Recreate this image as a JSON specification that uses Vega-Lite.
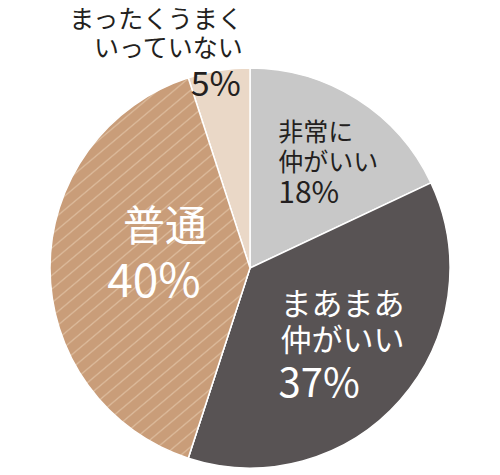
{
  "$schema": "https://vega.github.io/schema/vega-lite/v6.json",
  "width": 500,
  "height": 414,
  "autosize": "none",
  "padding": {"top": 61, "left": 0, "right": 0, "bottom": 0},
  "background": "white",
  "config": {"view": {"stroke": null}, "text": {"font": "Noto Sans CJK JP"}},
  "data": {"values": [
    {"cat": "非常に仲がいい", "value": 18, "o": 1, "label": "非常に\n仲がいい", "pct": "18%"},
    {"cat": "まあまあ仲がいい", "value": 37, "o": 2, "label": "まあまあ\n仲がいい", "pct": "37%"},
    {"cat": "普通", "value": 40, "o": 3, "label": "普通", "pct": "40%"},
    {"cat": "まったくうまくいっていない", "value": 5, "o": 4, "label": "まったくうまく\nいっていない", "pct": "5%"}
  ]},
  "encoding": {
    "theta": {"field": "value", "type": "quantitative", "stack": true},
    "order": {"field": "o", "type": "quantitative"}
  },
  "layer": [
    {
      "mark": {"type": "arc", "outerRadius": 200, "stroke": "white", "strokeWidth": 1.5},
      "encoding": {
        "color": {"field": "cat", "type": "nominal", "legend": null,
          "scale": {"domain": ["非常に仲がいい", "まあまあ仲がいい", "普通", "まったくうまくいっていない"],
                    "range": ["#c8c8c8", "#585354", "#c99d79", "#ead8c7"]}}
      }
    },
    {
      "mark": {"type": "arc", "outerRadius": 200, "stroke": "white", "strokeWidth": 1.5,
        "fill": {"gradient": "linear", "x1": 0, "y1": 0, "x2": 0.533, "y2": 1.207, "stops": [
          {"offset": 0, "color": "#c99d79"},
          {"offset": 0.010, "color": "#c99d79"}, {"offset": 0.013, "color": "#dcbb9c"}, {"offset": 0.016, "color": "#c99d79"},
          {"offset": 0.035, "color": "#c99d79"}, {"offset": 0.038, "color": "#dcbb9c"}, {"offset": 0.041, "color": "#c99d79"},
          {"offset": 0.060, "color": "#c99d79"}, {"offset": 0.063, "color": "#dcbb9c"}, {"offset": 0.066, "color": "#c99d79"},
          {"offset": 0.085, "color": "#c99d79"}, {"offset": 0.088, "color": "#dcbb9c"}, {"offset": 0.091, "color": "#c99d79"},
          {"offset": 0.110, "color": "#c99d79"}, {"offset": 0.113, "color": "#dcbb9c"}, {"offset": 0.116, "color": "#c99d79"},
          {"offset": 0.135, "color": "#c99d79"}, {"offset": 0.138, "color": "#dcbb9c"}, {"offset": 0.141, "color": "#c99d79"},
          {"offset": 0.160, "color": "#c99d79"}, {"offset": 0.163, "color": "#dcbb9c"}, {"offset": 0.166, "color": "#c99d79"},
          {"offset": 0.185, "color": "#c99d79"}, {"offset": 0.188, "color": "#dcbb9c"}, {"offset": 0.191, "color": "#c99d79"},
          {"offset": 0.210, "color": "#c99d79"}, {"offset": 0.213, "color": "#dcbb9c"}, {"offset": 0.216, "color": "#c99d79"},
          {"offset": 0.235, "color": "#c99d79"}, {"offset": 0.238, "color": "#dcbb9c"}, {"offset": 0.241, "color": "#c99d79"},
          {"offset": 0.260, "color": "#c99d79"}, {"offset": 0.263, "color": "#dcbb9c"}, {"offset": 0.266, "color": "#c99d79"},
          {"offset": 0.285, "color": "#c99d79"}, {"offset": 0.288, "color": "#dcbb9c"}, {"offset": 0.291, "color": "#c99d79"},
          {"offset": 0.310, "color": "#c99d79"}, {"offset": 0.313, "color": "#dcbb9c"}, {"offset": 0.316, "color": "#c99d79"},
          {"offset": 0.335, "color": "#c99d79"}, {"offset": 0.338, "color": "#dcbb9c"}, {"offset": 0.341, "color": "#c99d79"},
          {"offset": 0.360, "color": "#c99d79"}, {"offset": 0.363, "color": "#dcbb9c"}, {"offset": 0.366, "color": "#c99d79"},
          {"offset": 0.385, "color": "#c99d79"}, {"offset": 0.388, "color": "#dcbb9c"}, {"offset": 0.391, "color": "#c99d79"},
          {"offset": 0.410, "color": "#c99d79"}, {"offset": 0.413, "color": "#dcbb9c"}, {"offset": 0.416, "color": "#c99d79"},
          {"offset": 0.435, "color": "#c99d79"}, {"offset": 0.438, "color": "#dcbb9c"}, {"offset": 0.441, "color": "#c99d79"},
          {"offset": 0.460, "color": "#c99d79"}, {"offset": 0.463, "color": "#dcbb9c"}, {"offset": 0.466, "color": "#c99d79"},
          {"offset": 0.485, "color": "#c99d79"}, {"offset": 0.488, "color": "#dcbb9c"}, {"offset": 0.491, "color": "#c99d79"},
          {"offset": 0.510, "color": "#c99d79"}, {"offset": 0.513, "color": "#dcbb9c"}, {"offset": 0.516, "color": "#c99d79"},
          {"offset": 0.535, "color": "#c99d79"}, {"offset": 0.538, "color": "#dcbb9c"}, {"offset": 0.541, "color": "#c99d79"},
          {"offset": 0.560, "color": "#c99d79"}, {"offset": 0.563, "color": "#dcbb9c"}, {"offset": 0.566, "color": "#c99d79"},
          {"offset": 0.585, "color": "#c99d79"}, {"offset": 0.588, "color": "#dcbb9c"}, {"offset": 0.591, "color": "#c99d79"},
          {"offset": 0.610, "color": "#c99d79"}, {"offset": 0.613, "color": "#dcbb9c"}, {"offset": 0.616, "color": "#c99d79"},
          {"offset": 0.635, "color": "#c99d79"}, {"offset": 0.638, "color": "#dcbb9c"}, {"offset": 0.641, "color": "#c99d79"},
          {"offset": 0.660, "color": "#c99d79"}, {"offset": 0.663, "color": "#dcbb9c"}, {"offset": 0.666, "color": "#c99d79"},
          {"offset": 0.685, "color": "#c99d79"}, {"offset": 0.688, "color": "#dcbb9c"}, {"offset": 0.691, "color": "#c99d79"},
          {"offset": 0.710, "color": "#c99d79"}, {"offset": 0.713, "color": "#dcbb9c"}, {"offset": 0.716, "color": "#c99d79"},
          {"offset": 0.735, "color": "#c99d79"}, {"offset": 0.738, "color": "#dcbb9c"}, {"offset": 0.741, "color": "#c99d79"},
          {"offset": 0.760, "color": "#c99d79"}, {"offset": 0.763, "color": "#dcbb9c"}, {"offset": 0.766, "color": "#c99d79"},
          {"offset": 0.785, "color": "#c99d79"}, {"offset": 0.788, "color": "#dcbb9c"}, {"offset": 0.791, "color": "#c99d79"},
          {"offset": 0.810, "color": "#c99d79"}, {"offset": 0.813, "color": "#dcbb9c"}, {"offset": 0.816, "color": "#c99d79"},
          {"offset": 0.835, "color": "#c99d79"}, {"offset": 0.838, "color": "#dcbb9c"}, {"offset": 0.841, "color": "#c99d79"},
          {"offset": 0.860, "color": "#c99d79"}, {"offset": 0.863, "color": "#dcbb9c"}, {"offset": 0.866, "color": "#c99d79"},
          {"offset": 0.885, "color": "#c99d79"}, {"offset": 0.888, "color": "#dcbb9c"}, {"offset": 0.891, "color": "#c99d79"},
          {"offset": 0.910, "color": "#c99d79"}, {"offset": 0.913, "color": "#dcbb9c"}, {"offset": 0.916, "color": "#c99d79"},
          {"offset": 0.935, "color": "#c99d79"}, {"offset": 0.938, "color": "#dcbb9c"}, {"offset": 0.941, "color": "#c99d79"},
          {"offset": 0.960, "color": "#c99d79"}, {"offset": 0.963, "color": "#dcbb9c"}, {"offset": 0.966, "color": "#c99d79"},
          {"offset": 0.985, "color": "#c99d79"}, {"offset": 0.988, "color": "#dcbb9c"}, {"offset": 0.991, "color": "#c99d79"},
          {"offset": 1, "color": "#c99d79"}
        ]}},
      "encoding": {
        "detail": {"field": "cat"},
        "opacity": {"condition": {"test": "datum.cat === '普通'", "value": 1}, "value": 0}
      }
    },
    {
      "mark": {"type": "text", "radius": 120, "align": "left", "baseline": "middle", "dx": -36, "dy": -34, "fontSize": 25, "lineHeight": 30, "lineBreak": "\n", "fill": "#231f20"},
      "encoding": {"detail": {"field": "cat"}, "text": {"condition": {"test": "datum.cat === '非常に仲がいい'", "field": "label"}, "value": ""}}
    },
    {
      "mark": {"type": "text", "radius": 120, "align": "left", "baseline": "middle", "dx": -36, "dy": 27, "fontSize": 30, "fill": "#231f20"},
      "encoding": {"detail": {"field": "cat"}, "text": {"condition": {"test": "datum.cat === '非常に仲がいい'", "field": "pct"}, "value": ""}}
    },
    {
      "mark": {"type": "text", "radius": 130, "align": "left", "baseline": "middle", "dx": -67, "dy": -48, "fontSize": 31, "lineHeight": 36, "lineBreak": "\n", "fill": "white"},
      "encoding": {"detail": {"field": "cat"}, "text": {"condition": {"test": "datum.cat === 'まあまあ仲がいい'", "field": "label"}, "value": ""}}
    },
    {
      "mark": {"type": "text", "radius": 130, "align": "left", "baseline": "middle", "dx": -69, "dy": 31, "fontSize": 40, "fill": "white"},
      "encoding": {"detail": {"field": "cat"}, "text": {"condition": {"test": "datum.cat === 'まあまあ仲がいい'", "field": "pct"}, "value": ""}}
    },
    {
      "mark": {"type": "text", "radius": 90, "align": "center", "baseline": "middle", "dx": 5, "dy": -40, "fontSize": 42, "fill": "white"},
      "encoding": {"detail": {"field": "cat"}, "text": {"condition": {"test": "datum.cat === '普通'", "field": "label"}, "value": ""}}
    },
    {
      "mark": {"type": "text", "radius": 90, "align": "center", "baseline": "middle", "dx": -6, "dy": 15, "fontSize": 46, "fill": "white"},
      "encoding": {"detail": {"field": "cat"}, "text": {"condition": {"test": "datum.cat === '普通'", "field": "pct"}, "value": ""}}
    },
    {
      "mark": {"type": "text", "radius": 180, "align": "center", "baseline": "middle", "dx": -6, "dy": -4, "fontSize": 34, "fill": "#231f20"},
      "encoding": {"detail": {"field": "cat"}, "text": {"condition": {"test": "datum.cat === 'まったくうまくいっていない'", "field": "pct"}, "value": ""}}
    },
    {
      "mark": {"type": "text", "radius": 180, "align": "right", "baseline": "middle", "dx": 21, "dy": -70, "fontSize": 25, "lineHeight": 29, "lineBreak": "\n", "fill": "#231f20"},
      "encoding": {"detail": {"field": "cat"}, "text": {"condition": {"test": "datum.cat === 'まったくうまくいっていない'", "field": "label"}, "value": ""}}
    }
  ]
}
